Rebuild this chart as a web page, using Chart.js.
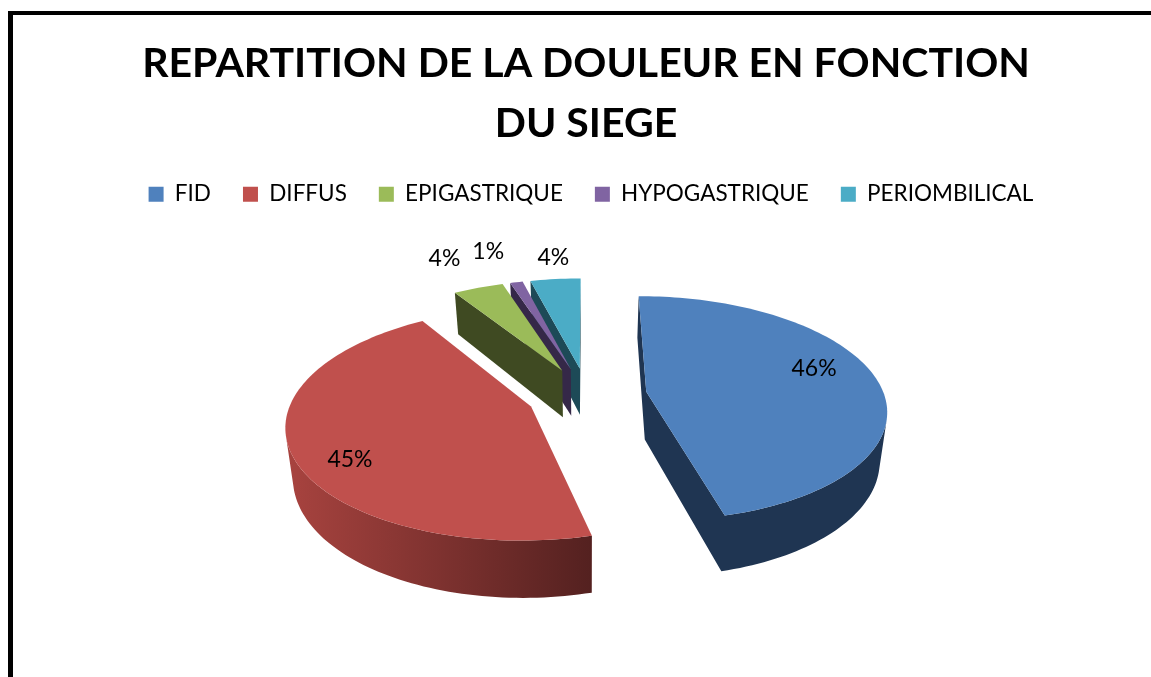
<!DOCTYPE html>
<html>
<head>
<meta charset="utf-8">
<title>Repartition de la douleur</title>
<script src="https://cdn.jsdelivr.net/npm/chart.js@4/dist/chart.umd.min.js"></script>
<style>
  html, body { margin: 0; padding: 0; background: #fff; overflow: hidden; }
  #frame { position: absolute; left: 8px; top: 11px; width: 1143px; height: 666px; border-left: 5px solid #000; border-top: 4px solid #000; box-sizing: border-box; }
  #frame canvas { display: block; }
</style>
</head>
<body>
<div id="frame"><canvas id="painChart" width="1138" height="662"></canvas></div>
<script>
const titleLines = ['REPARTITION DE LA DOULEUR EN FONCTION', 'DU SIEGE'];
const sites = ['FID', 'DIFFUS', 'EPIGASTRIQUE', 'HYPOGASTRIQUE', 'PERIOMBILICAL'];
const shares = [46, 45, 4, 1, 4];
const topColors = ['#4f81bd', '#c0504d', '#9bbb59', '#8064a2', '#4bacc6'];

// flat pie elements from Chart.js, re-projected with a bit of perspective
const pie3d = {
  id: 'pie3d',
  afterLayout(chart, args, opts) {
    chart.legend.left += opts.legendShift;
    chart.legend.right += opts.legendShift;
  },
  beforeDatasetDraw(chart, args, opts) {
    const ctx = chart.ctx;
    const arcs = chart.getDatasetMeta(0).data;
    const cx = arcs[0].x + opts.shiftX, cy = arcs[0].y + opts.shiftY;

    const project = (u, v) => {
      const w = 1 / (1 - opts.persp * v);
      return { x: cx + u * w, y: cy + v * opts.tilt * w, w };
    };
    const lower = (u, v) => {
      const p = project(u, v);
      return { x: cx + u * p.w * opts.shrink, y: p.y + opts.depth * p.w };
    };

    const outline = (arc) => {
      const mid = (arc.startAngle + arc.endAngle) / 2;
      const ox = Math.cos(mid) * arc.options.offset, oy = Math.sin(mid) * arc.options.offset;
      const pts = [[ox, oy]];
      const n = Math.max(4, Math.round((arc.endAngle - arc.startAngle) * 40));
      for (let k = 0; k <= n; k++) {
        const a = arc.startAngle + (arc.endAngle - arc.startAngle) * k / n;
        pts.push([ox + Math.cos(a) * arc.outerRadius, oy + Math.sin(a) * arc.outerRadius]);
      }
      return pts;
    };

    const sideFill = (i) => {
      const c = opts.sideColors[i];
      if (!Array.isArray(c)) return c;
      const g = ctx.createLinearGradient(cx - 300, 0, cx + 12, 0);
      g.addColorStop(0, c[0]);
      g.addColorStop(1, c[1]);
      return g;
    };

    ctx.save();
    opts.order.forEach(i => {
      const pts = outline(arcs[i]);
      // all visible wall quads go in one path, no seams that way
      ctx.fillStyle = sideFill(i);
      ctx.beginPath();
      for (let k = 0; k < pts.length; k++) {
        const p0 = pts[k], p1 = pts[(k + 1) % pts.length];
        const quad = [project(p0[0], p0[1]), project(p1[0], p1[1]), lower(p1[0], p1[1]), lower(p0[0], p0[1])];
        let area = 0;
        quad.forEach((q, j) => {
          const r = quad[(j + 1) % 4];
          area += q.x * r.y - r.x * q.y;
        });
        if (area >= 0) continue;
        quad.forEach((q, j) => j ? ctx.lineTo(q.x, q.y) : ctx.moveTo(q.x, q.y));
        ctx.closePath();
      }
      ctx.fill();

      ctx.fillStyle = arcs[i].options.backgroundColor;
      ctx.beginPath();
      pts.forEach((p, j) => {
        const q = project(p[0], p[1]);
        j ? ctx.lineTo(q.x, q.y) : ctx.moveTo(q.x, q.y);
      });
      ctx.closePath();
      ctx.fill();
    });

    // percent labels
    ctx.fillStyle = '#000';
    ctx.font = opts.labelFont;
    ctx.textAlign = 'center';
    ctx.textBaseline = 'middle';
    arcs.forEach((arc, i) => {
      const mid = (arc.startAngle + arc.endAngle) / 2;
      const r = arc.options.offset + arc.outerRadius * opts.labelRadius[i];
      const q = project(Math.cos(mid) * r, Math.sin(mid) * r);
      ctx.fillText(shares[i] + '%', q.x + opts.labelDx[i], q.y + opts.labelDy[i]);
    });
    ctx.restore();
    return false;
  }
};

new Chart(document.getElementById('painChart'), {
  type: 'pie',
  plugins: [pie3d],
  data: {
    labels: sites,
    datasets: [{ data: shares, backgroundColor: topColors, borderWidth: 0, offset: 60, radius: 238 }]
  },
  options: {
    responsive: false,
    animation: false,
    events: [],
    layout: { padding: { left: 8, bottom: 104 } },
    plugins: {
      title: {
        display: true,
        text: titleLines,
        color: '#000',
        font: { family: 'Lato', weight: 'bold', size: 41, lineHeight: 1.463 },
        padding: { top: 19, bottom: -3 }
      },
      legend: {
        position: 'top',
        labels: { boxWidth: 15, boxHeight: 15, color: '#000', font: { family: 'Lato', size: 22.5 }, padding: 32 }
      },
      tooltip: { enabled: false },
      pie3d: {
        legendShift: 5,
        tilt: 0.465,
        persp: 0.00062,
        depth: 48,
        shrink: 0.975,
        shiftX: 1,
        shiftY: 1,
        order: [4, 3, 2, 0, 1],
        sideColors: ['#1f3552', ['#a8433f', '#52201f'], '#3f4a22', '#352848', '#1d4a57'],
        labelFont: '23px Lato',
        labelRadius: [0.74, 0.76, 1.42, 1.42, 1.3],
        labelDx: [-3, -2, -4, -9, 4],
        labelDy: [-13, 17, 0, 0, 1]
      }
    }
  }
});
</script>
</body>
</html>
